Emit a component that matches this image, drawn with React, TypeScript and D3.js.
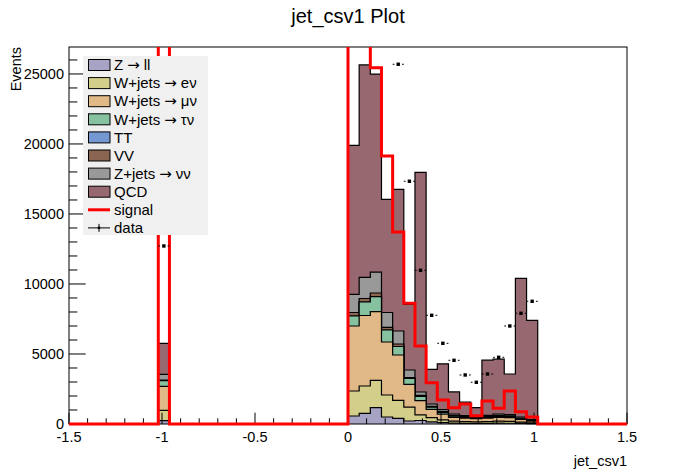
import React, { useEffect } from 'react';
import * as d3 from 'd3';

// ---- data (bins of width 0.06 on [-1.5, 1.5]; only non-empty bins listed) ----
const binLow = [-1.02, 0, 0.06, 0.12, 0.18, 0.24, 0.30, 0.36, 0.42, 0.48, 0.54, 0.60, 0.66, 0.72, 0.78, 0.84, 0.90, 0.96];
const binWidth = 0.06;

const zll =    [238, 571, 762, 1167, 500, 405, 214, 250, 150, 100, 60, 50, 40, 50, 60, 55, 40, 25];
const wenu =   [738, 1786, 1952, 1952, 1571, 1285, 986, 400, 300, 200, 140, 120, 110, 120, 140, 135, 100, 65];
const wmunu =  [1714, 4643, 5036, 4900, 3786, 3239, 1636, 1017, 600, 400, 280, 250, 230, 250, 270, 260, 190, 120];
const wtaunu = [405, 714, 964, 1071, 857, 607, 414, 313, 150, 120, 80, 60, 50, 60, 70, 70, 40, 30];
const ttbar =  [0, 0, 0, 0, 0, 0, 0, 0, 10, 10, 10, 10, 10, 10, 10, 10, 10, 5];
const vv =     [48, 250, 250, 265, 193, 178, 71, 70, 50, 50, 50, 40, 40, 50, 60, 50, 40, 25];
const znunu =  [405, 1298, 1512, 1485, 1057, 929, 536, 236, 169, 144, 94, 70, 70, 80, 104, 87, 80, 50];
const qcd =    [2214, 10643, 15167, 14155, 8084, 10119, 4693, 15690, 2476, 3276, 1576, 960, 620, 3940, 3916, 2904, 9905, 7085];
const signal = [48000, 52000, 30500, 25452, 19143, 13714, 8619, 5571, 2952, 1714, 1167, 1429, 595, 1643, 1119, 2357, 881, 500];
const data =   [12714, 31000, 36000, 34000, 28500, 25693, 17336, 10979, 7764, 5764, 4550, 3500, 2979, 3571, 4764, 7000, 7907, 8764];

// legend labels: [before arrow, after arrow] ('' after = no arrow)
const stackNames: [string, string][] = [
  ['Z', 'll'],
  ['W+jets', 'e\u03bd'],
  ['W+jets', '\u03bc\u03bd'],
  ['W+jets', '\u03c4\u03bd'],
  ['TT', ''],
  ['VV', ''],
  ['Z+jets', '\u03bd\u03bd'],
  ['QCD', ''],
];
const stackColors = ['#a7a3c4', '#d3cf8b', '#e0b987', '#86c1a0', '#7597d2', '#8a6552', '#999999', '#976870'];
const stackSeries = [zll, wenu, wmunu, wtaunu, ttbar, vv, znunu, qcd];

const xTickLabels = ['-1.5', '-1', '-0.5', '0', '0.5', '1', '1.5'];
const yTickLabels = ['0', '5000', '10000', '15000', '20000', '25000'];

const W = 696, H = 472;
const FL = 69, FR = 627, FT = 47, FB = 424;
const FONT = '"Liberation Sans", Arial, Helvetica, sans-serif';

export default function App() {
  useEffect(() => {
    document.body.style.margin = '0';
  }, []);

  const x = d3.scaleLinear().domain([-1.5, 1.5]).range([FL, FR]);
  const cum: number[][] = [];
  stackSeries.forEach((s, k) => {
    cum.push(s.map((v, i) => v + (k > 0 ? cum[k - 1][i] : 0)));
  });
  const total = cum[cum.length - 1];
  const yMax = (d3.max(total) as number) * 1.05;
  const y = d3.scaleLinear().domain([0, yMax]).range([FB, FT]);

  const stepPath = (vals: number[]) => {
    const pts: [number, number][] = [[-1.5, 0]];
    let prevHi = -1.5;
    binLow.forEach((lo, i) => {
      if (Math.abs(lo - prevHi) > 1e-6) {
        pts.push([prevHi, 0]);
        pts.push([lo, 0]);
      }
      pts.push([lo, vals[i]]);
      pts.push([lo + binWidth, vals[i]]);
      prevHi = lo + binWidth;
    });
    pts.push([prevHi, 0]);
    pts.push([1.5, 0]);
    return d3.line<[number, number]>().x(d => x(d[0])).y(d => y(d[1]))(pts) as string;
  };

  const yTicks = d3.range(0, yMax, 1000);
  const xTicks = d3.range(-15, 16, 1).map(v => v / 10);

  const legendTop = 56;
  const legendRowH = 18.1;
  const legendItems = [
    ...stackNames.map((n, i) => ({ name: n, kind: 'fill', color: stackColors[i] })),
    { name: ['signal', ''] as [string, string], kind: 'line', color: '#ff0000' },
    { name: ['data', ''] as [string, string], kind: 'data', color: '#000' },
  ];

  const mk = 3.4;
  const gap = 3.8;

  return (
    <svg width={W} height={H} style={{ display: 'block', background: '#fff' }} fontFamily={FONT}>
      <defs>
        <clipPath id="frameClip">
          <rect x={FL - 2} y={FT} width={FR - FL + 4} height={FB - FT + 3} />
        </clipPath>
      </defs>
      <rect x={0} y={0} width={W} height={H} fill="#fff" />
      <text x={348} y={23} fontSize={20} textAnchor="middle" fill="#000">jet_csv1 Plot</text>

      <g clipPath="url(#frameClip)">
        {cum.map((c, k) => k).reverse().map(k => (
          <path key={'s' + k} d={stepPath(cum[k])} fill={stackColors[k]} stroke="#000" strokeWidth={1.2} />
        ))}
      </g>

      <rect x={FL} y={FT} width={FR - FL} height={FB - FT} fill="none" stroke="#000" strokeWidth={1} />
      {yTicks.map(v => {
        const major = Math.abs(v % 5000) < 1e-6;
        return <line key={'yt' + v} x1={FL} x2={FL + (major ? 16.7 : 8.4)} y1={y(v)} y2={y(v)} stroke="#000" strokeWidth={1} />;
      })}
      {xTicks.map(v => {
        const major = Math.abs(Math.round(v * 10) % 5) === 0;
        return <line key={'xt' + v} x1={x(v)} x2={x(v)} y1={FB} y2={FB - (major ? 11.3 : 5.7)} stroke="#000" strokeWidth={1} />;
      })}
      {yTickLabels.map(l => (
        <text key={'yl' + l} x={64} y={y(+l)} dy="0.35em" fontSize={14.5} textAnchor="end" fill="#000">{l}</text>
      ))}
      {xTickLabels.map(l => (
        <text key={'xl' + l} x={x(+l)} y={442} fontSize={14.5} textAnchor="middle" fill="#000">{l}</text>
      ))}
      <text x={FR} y={466} fontSize={14.5} textAnchor="end" fill="#000">jet_csv1</text>
      <text transform={`translate(21,${FT}) rotate(-90)`} fontSize={14.5} textAnchor="end" fill="#000">Events</text>

      <g clipPath="url(#frameClip)">
        <path d={stepPath(signal)} fill="none" stroke="#ff0000" strokeWidth={3} strokeLinejoin="miter" />
      </g>

      <g clipPath="url(#frameClip)">
        {data.map((v, i) => {
          const lo = binLow[i];
          const xc = x(lo + binWidth / 2);
          const yc = y(v);
          const err = Math.sqrt(v);
          const yUp = y(v + err);
          const yDn = y(v - err);
          return (
            <g key={'d' + i}>
              <line x1={x(lo)} x2={xc - gap} y1={yc} y2={yc} stroke="#000" strokeWidth={1} />
              <line x1={xc + gap} x2={x(lo + binWidth)} y1={yc} y2={yc} stroke="#000" strokeWidth={1} />
              {yc - yUp > gap && <line x1={xc} x2={xc} y1={yUp} y2={yc - gap} stroke="#000" strokeWidth={1} />}
              {yDn - yc > gap && <line x1={xc} x2={xc} y1={yc + gap} y2={yDn} stroke="#000" strokeWidth={1} />}
              <rect x={xc - mk / 2} y={yc - mk / 2} width={mk} height={mk} fill="#000" />
            </g>
          );
        })}
      </g>

      <rect x={83} y={legendTop} width={125} height={179} fill="#f0f0f0" />
      {legendItems.map((it, i) => {
        const cy = legendTop + 9 + i * legendRowH;
        const [a, b] = it.name;
        return (
          <g key={'lg' + i}>
            {it.kind === 'fill' && (
              <rect x={88.5} y={cy - 5.5} width={21.5} height={11} fill={it.color} stroke="#000" strokeWidth={1} />
            )}
            {it.kind === 'line' && (
              <line x1={88} x2={110} y1={cy} y2={cy} stroke={it.color} strokeWidth={3} />
            )}
            {it.kind === 'data' && (
              <g>
                <line x1={88} x2={110} y1={cy} y2={cy} stroke="#000" strokeWidth={1} />
                <line x1={99} x2={99} y1={cy - 4} y2={cy + 4} stroke="#000" strokeWidth={1} />
                <rect x={97.8} y={cy - 1.2} width={2.4} height={2.4} fill="#000" />
              </g>
            )}
            <text x={114} y={cy} dy="0.35em" fontSize={15} fill="#000">
              {a}
              {b !== '' && (
                <>
                  <tspan fontFamily='"DejaVu Sans", sans-serif' fontSize={15} dx={4}>{'\u2192'}</tspan>
                  <tspan dx={4}>{b}</tspan>
                </>
              )}
            </text>
          </g>
        );
      })}
    </svg>
  );
}
